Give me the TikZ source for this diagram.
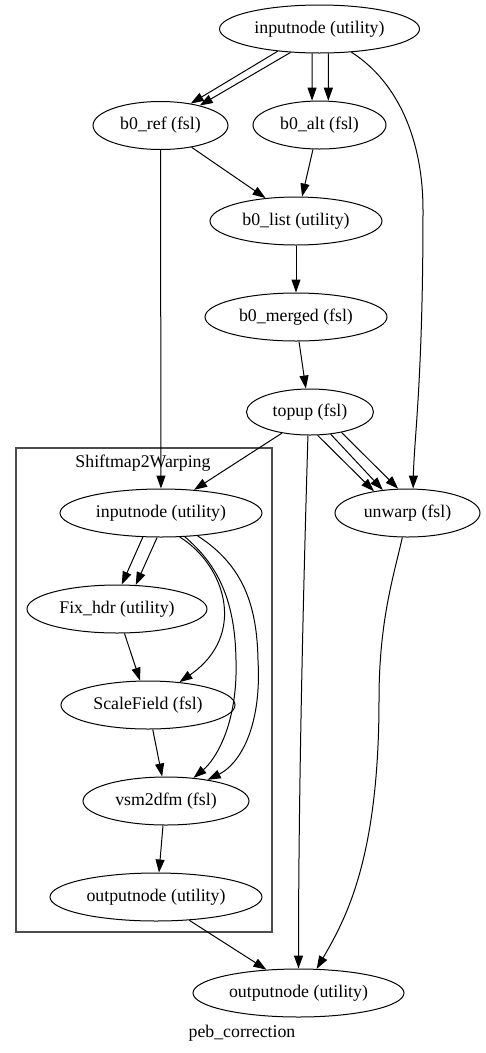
\documentclass[tikz,border=0pt]{standalone}
\usepackage{fontspec}
\setmainfont{Liberation Serif}
\usetikzlibrary{shapes.geometric,arrows.meta}

\begin{document}
\begin{tikzpicture}[
x=1pt, y=-1pt,
font=\fontsize{17.8}{20}\selectfont,
line width=1pt,
>={Triangle[length=13pt,width=9pt]},
proc/.style={draw, ellipse, inner sep=0pt, minimum height=48pt}]
\useasboundingbox (0,0) rectangle (485,1053);
%cluster
\draw[black!70, line width=1.3pt] (16,448) rectangle (272,932);
\node (clab) at (143,463) {Shiftmap2Warping};

\node (in) [proc, minimum width=200pt] at (319.5,29) {inputnode (utility)};
\node (ref) [proc, minimum width=135pt] at (160.5,125.5) {b0\_ref (fsl)};
\node (alt) [proc, minimum width=133pt] at (319.5,125) {b0\_alt (fsl)};
\node (list) [proc, minimum width=172pt] at (296,221) {b0\_list (utility)};
\node (merged) [proc, minimum width=182pt] at (296,317) {b0\_merged (fsl)};
\node (topup) [proc, minimum width=127pt, minimum height=46pt] at (310,412) {topup (fsl)};
\node (unwarp) [proc, minimum width=145pt] at (407.5,513) {unwarp (fsl)};
\node (sin) [proc, minimum width=202pt] at (161,513) {inputnode (utility)};
\node (fix) [proc, minimum width=180pt] at (117,609) {Fix\_hdr (utility)};
\node (scale) [proc, minimum width=174pt] at (148,705) {ScaleField (fsl)};
\node (vsm) [proc, minimum width=166pt] at (166,801) {vsm2dfm (fsl)};
\node (sout) [proc, minimum width=212pt] at (156,897) {outputnode (utility)};
\node (out) [proc, minimum width=211pt] at (298.5,993) {outputnode (utility)};
\node (name) at (242,1033) {peb\_correction};

\draw[->] (in.208) -- (ref.36);
\draw[->] (in.219) -- (ref.27);
\draw[->] (in.253) -- (alt.107);
\draw[->] (in.290) -- (alt.70);
\draw[->] (in.324) .. controls (398,82) and (423,140) .. (423,210) .. controls (423,380) and (414,440) .. (unwarp.77);
\draw[->] (ref.325) -- (list.143);
\draw[->] (alt.255) -- (list.76);
\draw[->] (list) -- (merged);
\draw[->] (merged.277) -- (topup.100);
\draw[->] (ref) -- (sin);
\draw[->] (topup.217) -- (sin.35);
\draw[->] (topup.265) .. controls (303,600) and (298.5,800) .. (out.north);
\draw[->] (topup.288) -- (unwarp.147);
\draw[->] (topup.313) -- (unwarp.137);
\draw[->] (topup.327) -- (unwarp.111);
\draw[->] (unwarp.258) .. controls (394,575) and (379,620) .. (379,700) .. controls (379,860) and (345,920) .. (out.53);

\draw[->] (sin.233) -- (fix.79);
\draw[->] (sin.261) -- (fix.52);
\draw[->] (sin.308) .. controls (225,565) and (248,635) .. (scale.36);
\draw[->] (sin.315) .. controls (218,565) and (235,600) .. (236,660) .. controls (238,725) and (215,760) .. (vsm.40);
\draw[->] (sin.328) .. controls (243,565) and (257,605) .. (258,660) .. controls (262,730) and (238,765) .. (vsm.27);
\draw[->] (fix.287) -- (scale.108);
\draw[->] (scale.281) -- (vsm.99);
\draw[->] (vsm.263) -- (sout.83);
\draw[->] (sout.325) -- (out.144);
\end{tikzpicture}
\end{document}
